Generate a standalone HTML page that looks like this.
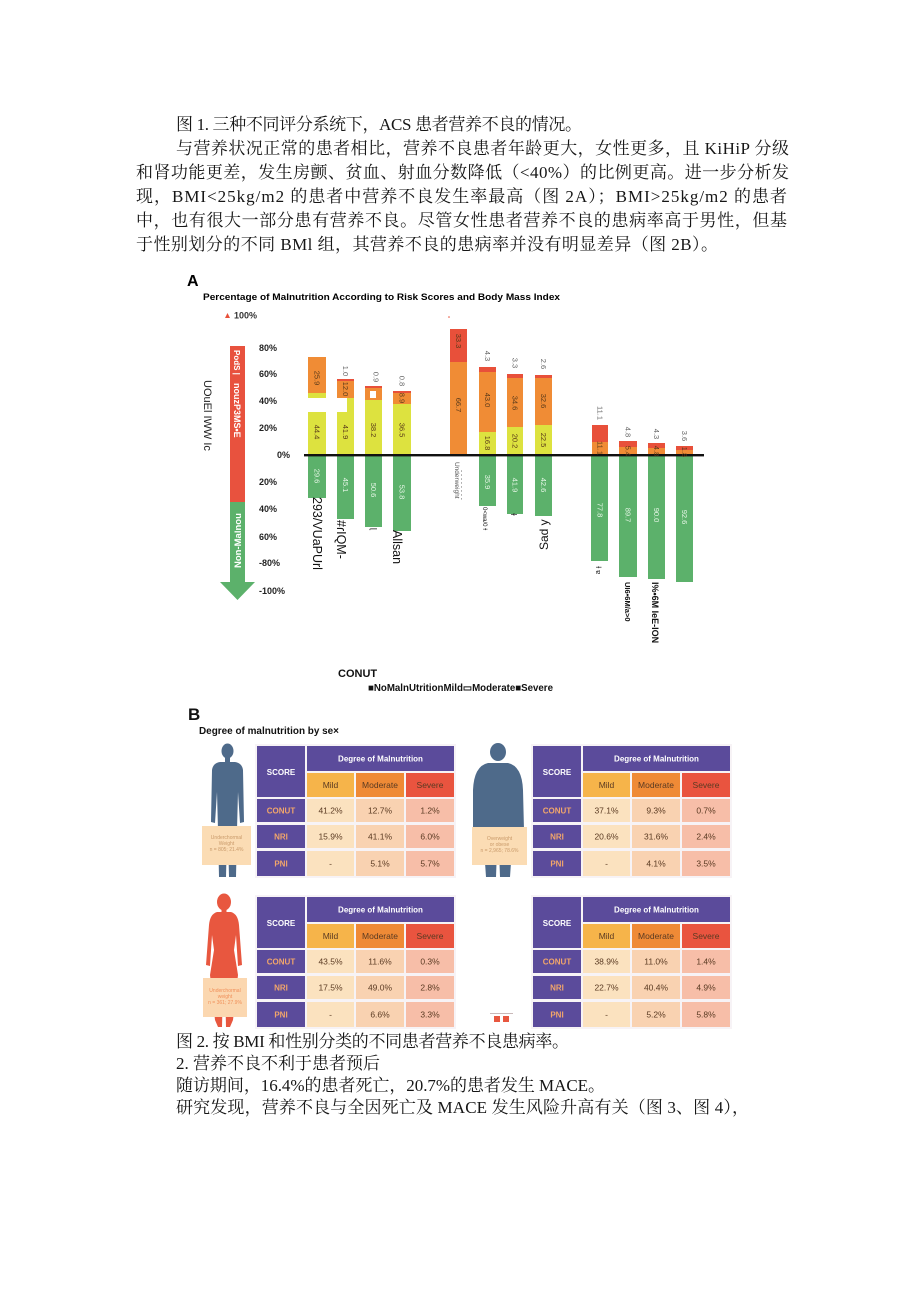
<!DOCTYPE html>
<html><head><meta charset="utf-8"><style>
html,body{margin:0;padding:0;background:#fff;}
svg{display:block;}
.p{font-family:"Liberation Serif","Noto Serif CJK SC",serif;font-size:17px;fill:#161616;}
.s{font-family:"Liberation Sans",Arial,sans-serif;}
.b{font-weight:bold;}
.lb{font-family:"Liberation Sans",sans-serif;font-size:7.5px;fill:#5a3a1a;}
.lg{font-family:"Liberation Sans",sans-serif;font-size:7.5px;fill:#e6f6e6;}
.la{font-family:"Liberation Sans",sans-serif;font-size:7.5px;fill:#666;}
.th{font-family:"Liberation Sans",sans-serif;font-size:8px;fill:#fff;font-weight:bold;}
.tc{font-family:"Liberation Sans",sans-serif;font-size:8.5px;fill:#5a3a22;}
.ts{font-family:"Liberation Sans",sans-serif;font-size:8px;fill:#f2a66a;font-weight:bold;}
</style></head><body>
<svg width="920" height="1301" viewBox="0 0 920 1301" xmlns="http://www.w3.org/2000/svg">
<rect width="920" height="1301" fill="#fff"/>

<!-- top paragraph -->
<text class="p" x="176" y="130" textLength="406" lengthAdjust="spacing">图 1. 三种不同评分系统下，ACS 患者营养不良的情况。</text>
<text class="p" x="176" y="154" textLength="613" lengthAdjust="spacing">与营养状况正常的患者相比，营养不良患者年龄更大，女性更多，且 KiHiP 分级</text>
<text class="p" x="136" y="178" textLength="653" lengthAdjust="spacing">和肾功能更差，发生房颤、贫血、射血分数降低（&lt;40%）的比例更高。进一步分析发</text>
<text class="p" x="136" y="202" textLength="651" lengthAdjust="spacing">现，BMI&lt;25kg/m2 的患者中营养不良发生率最高（图 2A）；BMI&gt;25kg/m2 的患者</text>
<text class="p" x="136" y="226" textLength="651" lengthAdjust="spacing">中，也有很大一部分患有营养不良。尽管女性患者营养不良的患病率高于男性，但基</text>
<text class="p" x="136" y="250" textLength="582" lengthAdjust="spacing">于性别划分的不同 BMl 组，其营养不良的患病率并没有明显差异（图 2B）。</text>

<!-- Chart A -->
<text class="s b" x="187" y="286" font-size="16">A</text>
<text class="s b" x="203" y="300" font-size="9.5" textLength="357" lengthAdjust="spacingAndGlyphs">Percentage of Malnutrition According to Risk Scores and Body Mass Index</text>
<polygon points="225,318 230,318 227.5,313" fill="#e8503a"/>
<text class="s b" x="234" y="318.5" font-size="9" fill="#333">100%</text>

<!-- y labels -->
<g class="s b" font-size="9" fill="#222">
<text x="259" y="351">80%</text>
<text x="259" y="377">60%</text>
<text x="259" y="404">40%</text>
<text x="259" y="431">20%</text>
<text x="277" y="458">0%</text>
<text x="259" y="485">20%</text>
<text x="259" y="512">40%</text>
<text x="259" y="540">60%</text>
<text x="259" y="566">-80%</text>
<text x="259" y="594">-100%</text>
</g>

<!-- arrow -->
<rect x="230" y="346" width="15" height="156" fill="#e8523e"/>
<rect x="230" y="502" width="15" height="80" fill="#5cb16b"/>
<polygon points="220,582 255,582 237.5,600" fill="#5cb16b"/>
<text class="s b" font-size="8" fill="#fff" transform="translate(234,350) rotate(90)">PodS  |</text>
<text class="s b" font-size="9" fill="#fff" transform="translate(234,383) rotate(90)">nouzP3MS•E</text>
<text class="s b" font-size="9.5" fill="#fff" transform="translate(241,568) rotate(-90)">Non-Malnou</text>
<text class="s" font-size="11" fill="#222" transform="translate(204,380) rotate(90)">UOuEl IWW Ic</text>

<!-- bars -->
<g>
<rect x="308" y="357" width="18" height="36" fill="#f08c35"/>
<rect x="308" y="393" width="18" height="5" fill="#dde23f"/>
<rect x="308" y="412" width="18" height="43" fill="#dde23f"/>
<rect x="308" y="455" width="18" height="43" fill="#5cb16b"/>
<rect x="337" y="379" width="17" height="2" fill="#e8503a"/>
<rect x="337" y="381" width="17" height="17" fill="#f08c35"/>
<rect x="347" y="398" width="7" height="14" fill="#dde23f"/>
<rect x="337" y="412" width="17" height="43" fill="#dde23f"/>
<rect x="337" y="455" width="17" height="64" fill="#5cb16b"/>
<rect x="365" y="386" width="17" height="2" fill="#e8503a"/>
<rect x="365" y="388" width="17" height="12" fill="#f08c35"/>
<rect x="370" y="391" width="6" height="7" fill="#fff"/>
<rect x="365" y="400" width="17" height="55" fill="#dde23f"/>
<rect x="365" y="455" width="17" height="72" fill="#5cb16b"/>
<rect x="393" y="391" width="18" height="2" fill="#e8503a"/>
<rect x="393" y="393" width="18" height="11" fill="#f08c35"/>
<rect x="393" y="404" width="18" height="51" fill="#dde23f"/>
<rect x="393" y="455" width="18" height="76" fill="#5cb16b"/>
<circle cx="449" cy="317" r="0.8" fill="#e8503a"/>
<rect x="450" y="329" width="17" height="33" fill="#e8503a"/>
<rect x="450" y="362" width="17" height="93" fill="#f08c35"/>
<rect x="479" y="367" width="17" height="5" fill="#e8503a"/>
<rect x="479" y="372" width="17" height="60" fill="#f08c35"/>
<rect x="479" y="432" width="17" height="23" fill="#dde23f"/>
<rect x="479" y="455" width="17" height="51" fill="#5cb16b"/>
<rect x="507" y="374" width="16" height="4" fill="#e8503a"/>
<rect x="507" y="378" width="16" height="49" fill="#f08c35"/>
<rect x="507" y="427" width="16" height="28" fill="#dde23f"/>
<rect x="507" y="455" width="16" height="59" fill="#5cb16b"/>
<rect x="535" y="375" width="17" height="3" fill="#e8503a"/>
<rect x="535" y="378" width="17" height="47" fill="#f08c35"/>
<rect x="535" y="425" width="17" height="30" fill="#dde23f"/>
<rect x="535" y="455" width="17" height="61" fill="#5cb16b"/>
<rect x="592" y="425" width="16" height="17" fill="#e8503a"/>
<rect x="592" y="442" width="16" height="13" fill="#f08c35"/>
<rect x="591" y="455" width="17" height="106" fill="#5cb16b"/>
<rect x="619" y="441" width="18" height="6" fill="#e8503a"/>
<rect x="619" y="447" width="18" height="8" fill="#f08c35"/>
<rect x="619" y="455" width="18" height="122" fill="#5cb16b"/>
<rect x="648" y="443" width="17" height="5" fill="#e8503a"/>
<rect x="648" y="448" width="17" height="7" fill="#f08c35"/>
<rect x="648" y="455" width="17" height="124" fill="#5cb16b"/>
<rect x="676" y="446" width="17" height="4" fill="#e8503a"/>
<rect x="676" y="450" width="17" height="5" fill="#f08c35"/>
<rect x="676" y="455" width="17" height="127" fill="#5cb16b"/>
</g>

<!-- zero line -->
<rect x="304" y="454" width="400" height="2.4" fill="#111"/>

<!-- bar labels -->
<g text-anchor="middle">
<text class="lb" transform="translate(317,378) rotate(90)" dy="2.5">25.9</text>
<text class="lb" transform="translate(317,432) rotate(90)" dy="2.5">44.4</text>
<text class="lg" transform="translate(317,476) rotate(90)" dy="2.5">29.6</text>
<text class="la" transform="translate(345.5,371) rotate(90)" dy="2.5">1.0</text>
<text class="lb" transform="translate(345.5,389) rotate(90)" dy="2.5">12.0</text>
<text class="lb" transform="translate(345.5,432) rotate(90)" dy="2.5">41.9</text>
<text class="lg" transform="translate(345.5,485) rotate(90)" dy="2.5">45.1</text>
<text class="la" transform="translate(376,377) rotate(90)" dy="2.5">0.9</text>
<text class="lb" transform="translate(373.5,430) rotate(90)" dy="2.5">38.2</text>
<text class="lg" transform="translate(373.5,490) rotate(90)" dy="2.5">50.6</text>
<text class="la" transform="translate(402,381) rotate(90)" dy="2.5">0.8</text>
<text class="lb" transform="translate(402,398) rotate(90)" dy="2.5">8.9</text>
<text class="lb" transform="translate(402,430) rotate(90)" dy="2.5">36.5</text>
<text class="lg" transform="translate(402,492) rotate(90)" dy="2.5">53.8</text>
<text class="lb" transform="translate(458.5,341) rotate(90)" dy="2.5">33.3</text>
<text class="lb" transform="translate(458.5,405) rotate(90)" dy="2.5">66.7</text>
<text class="la" transform="translate(487.5,356) rotate(90)" dy="2.5">4.3</text>
<text class="lb" transform="translate(487.5,400) rotate(90)" dy="2.5">43.0</text>
<text class="lb" transform="translate(487.5,443) rotate(90)" dy="2.5">16.8</text>
<text class="lg" transform="translate(487.5,482) rotate(90)" dy="2.5">35.9</text>
<text class="la" transform="translate(515,363) rotate(90)" dy="2.5">3.3</text>
<text class="lb" transform="translate(515,403) rotate(90)" dy="2.5">34.6</text>
<text class="lb" transform="translate(515,441) rotate(90)" dy="2.5">20.2</text>
<text class="lg" transform="translate(515,485) rotate(90)" dy="2.5">41.9</text>
<text class="la" transform="translate(543.5,364) rotate(90)" dy="2.5">2.6</text>
<text class="lb" transform="translate(543.5,401) rotate(90)" dy="2.5">32.6</text>
<text class="lb" transform="translate(543.5,440) rotate(90)" dy="2.5">22.5</text>
<text class="lg" transform="translate(543.5,485) rotate(90)" dy="2.5">42.6</text>
<text class="la" transform="translate(600,413) rotate(90)" dy="2.5">11.1</text>
<text class="lb" transform="translate(600,448) rotate(90)" dy="2.5">11.1</text>
<text class="lg" transform="translate(600,510) rotate(90)" dy="2.5">77.8</text>
<text class="la" transform="translate(628,432) rotate(90)" dy="2.5">4.8</text>
<text class="lb" transform="translate(628,451) rotate(90)" dy="2.5">5.4</text>
<text class="lg" transform="translate(628,515) rotate(90)" dy="2.5">89.7</text>
<text class="la" transform="translate(656.5,434) rotate(90)" dy="2.5">4.3</text>
<text class="lb" transform="translate(656.5,451) rotate(90)" dy="2.5">4.8</text>
<text class="lg" transform="translate(656.5,515) rotate(90)" dy="2.5">90.0</text>
<text class="la" transform="translate(684.5,436) rotate(90)" dy="2.5">3.6</text>
<text class="lb" transform="translate(684.5,452) rotate(90)" dy="2.5">1.8</text>
<text class="lg" transform="translate(684.5,517) rotate(90)" dy="2.5">92.6</text>
</g>

<!-- garbled category labels -->
<g class="s" fill="#111">
<text font-size="12.5" transform="translate(313,497) rotate(90)">293/VUaPUrl</text>
<text font-size="12.5" transform="translate(337,520) rotate(90)">#ɾIQM-</text>
<text font-size="8" transform="translate(371,528) rotate(90)">ɭ</text>
<text font-size="12.5" transform="translate(393,530) rotate(90)">Allsan</text>
<text font-size="6.5" fill="#555" transform="translate(455,462) rotate(90)">Underweight</text>
<text font-size="6.5" fill="#555" transform="translate(460,470) rotate(90)">- - - - - - - -</text>
<text font-size="6" transform="translate(483,507) rotate(90)">0&lt;wa/0 ɫ</text>
<text font-size="8" transform="translate(511,513) rotate(90)">ɫ</text>
<text font-size="12" transform="translate(548,550) rotate(-90)">Sad y</text>
<text font-size="7" transform="translate(596,566) rotate(90)">ɫ ɐ</text>
<text class="b" font-size="7.5" transform="translate(625,582) rotate(90)">UI6•6M/a&gt;0</text>
<text class="b" font-size="9" transform="translate(652,582) rotate(90)">I%•6M IeE-ION</text>
</g>

<text class="s b" x="338" y="677" font-size="11" fill="#111">CONUT</text>
<text class="s b" x="368" y="691" font-size="10" fill="#111" textLength="185" lengthAdjust="spacingAndGlyphs">■NoMalnUtritionMild▭Moderate■Severe</text>

<!-- B -->
<text class="s b" x="188" y="720" font-size="17" fill="#111">B</text>
<text class="s b" x="199" y="734" font-size="10" fill="#111" textLength="140" lengthAdjust="spacingAndGlyphs">Degree of malnutrition by se×</text>

<!-- tables -->
<defs>
<g id="tbl">
<rect x="-2" y="-2" width="201" height="134" fill="#f7f3f6"/>
<rect x="0" y="0" width="48" height="51" fill="#5b4b9b"/>
<rect x="50" y="0" width="147" height="25" fill="#5b4b9b"/>
<rect x="50" y="27" width="47" height="24" fill="#f6b44a"/>
<rect x="99" y="27" width="48" height="24" fill="#ef8a36"/>
<rect x="149" y="27" width="48" height="24" fill="#e9543f"/>
<rect x="0" y="53" width="48" height="23" fill="#5b4b9b"/>
<rect x="0" y="79" width="48" height="23" fill="#5b4b9b"/>
<rect x="0" y="105" width="48" height="25" fill="#5b4b9b"/>
<rect x="50" y="53" width="47" height="23" fill="#fbe2bf"/>
<rect x="50" y="79" width="47" height="23" fill="#fbe2bf"/>
<rect x="50" y="105" width="47" height="25" fill="#fbe2bf"/>
<rect x="99" y="53" width="48" height="23" fill="#f9d2b1"/>
<rect x="99" y="79" width="48" height="23" fill="#f9d2b1"/>
<rect x="99" y="105" width="48" height="25" fill="#f9d2b1"/>
<rect x="149" y="53" width="48" height="23" fill="#f7bea8"/>
<rect x="149" y="79" width="48" height="23" fill="#f7bea8"/>
<rect x="149" y="105" width="48" height="25" fill="#f7bea8"/>
<text class="th" x="24" y="29" text-anchor="middle">SCORE</text>
<text class="th" x="123.5" y="15.5" text-anchor="middle">Degree of Malnutrition</text>
<text class="tc" x="73.5" y="42" text-anchor="middle">Mild</text>
<text class="tc" x="123" y="42" text-anchor="middle">Moderate</text>
<text class="tc" x="173" y="42" text-anchor="middle" fill="#5a1a10">Severe</text>
<text class="ts" x="24" y="67.5" text-anchor="middle">CONUT</text>
<text class="ts" x="24" y="93.5" text-anchor="middle">NRI</text>
<text class="ts" x="24" y="120.5" text-anchor="middle">PNI</text>
</g>
</defs>

<g transform="translate(257,746)">
<use href="#tbl"/>
<g class="tc" text-anchor="middle">
<text x="73.5" y="67.5">41.2%</text><text x="123" y="67.5">12.7%</text><text x="173" y="67.5">1.2%</text>
<text x="73.5" y="93.5">15.9%</text><text x="123" y="93.5">41.1%</text><text x="173" y="93.5">6.0%</text>
<text x="73.5" y="120.5">-</text><text x="123" y="120.5">5.1%</text><text x="173" y="120.5">5.7%</text>
</g></g>

<g transform="translate(533,746)">
<use href="#tbl"/>
<g class="tc" text-anchor="middle">
<text x="73.5" y="67.5">37.1%</text><text x="123" y="67.5">9.3%</text><text x="173" y="67.5">0.7%</text>
<text x="73.5" y="93.5">20.6%</text><text x="123" y="93.5">31.6%</text><text x="173" y="93.5">2.4%</text>
<text x="73.5" y="120.5">-</text><text x="123" y="120.5">4.1%</text><text x="173" y="120.5">3.5%</text>
</g></g>

<g transform="translate(257,897)">
<use href="#tbl"/>
<g class="tc" text-anchor="middle">
<text x="73.5" y="67.5">43.5%</text><text x="123" y="67.5">11.6%</text><text x="173" y="67.5">0.3%</text>
<text x="73.5" y="93.5">17.5%</text><text x="123" y="93.5">49.0%</text><text x="173" y="93.5">2.8%</text>
<text x="73.5" y="120.5">-</text><text x="123" y="120.5">6.6%</text><text x="173" y="120.5">3.3%</text>
</g></g>

<g transform="translate(533,897)">
<use href="#tbl"/>
<g class="tc" text-anchor="middle">
<text x="73.5" y="67.5">38.9%</text><text x="123" y="67.5">11.0%</text><text x="173" y="67.5">1.4%</text>
<text x="73.5" y="93.5">22.7%</text><text x="123" y="93.5">40.4%</text><text x="173" y="93.5">4.9%</text>
<text x="73.5" y="120.5">-</text><text x="123" y="120.5">5.2%</text><text x="173" y="120.5">5.8%</text>
</g></g>

<!-- figures -->
<ellipse cx="227.5" cy="751" rx="6" ry="7.5" fill="#4e6a8a"/>
<rect x="225" y="756" width="5" height="7" fill="#4e6a8a"/>
<path d="M220,762 L235,762 Q242,763 243,770 L244,822 L240,823 L238,792 L237,830 L236,877 L229,877 L228,836 L227,836 L226,877 L219,877 L218,830 L217,792 L215,823 L211,822 L212,770 Q213,763 220,762 Z" fill="#4e6a8a"/>
<rect x="202" y="826" width="49" height="39" fill="#fbdcb4"/>
<g class="s" font-size="5" fill="#c99a6a" text-anchor="middle">
<text x="226.5" y="839">Underchormal</text><text x="226.5" y="845">Weight</text><text x="226.5" y="851">n = 805; 21.4%</text>
</g>

<ellipse cx="498" cy="752" rx="8" ry="9" fill="#4e6a8a"/>
<path d="M488,763 L508,763 Q522,766 523,790 L524,830 Q522,845 512,848 L510,877 L500,877 L499,850 L497,850 L496,877 L486,877 L484,848 Q474,845 473,830 L473,790 Q474,766 488,763 Z" fill="#4e6a8a"/>
<rect x="472" y="827" width="55" height="38" fill="#fbdcb4"/>
<g class="s" font-size="5" fill="#c99a6a" text-anchor="middle">
<text x="499.5" y="840">Overweight</text><text x="499.5" y="846">or obese</text><text x="499.5" y="852">n = 2,965; 78.6%</text>
</g>

<ellipse cx="224" cy="902" rx="7" ry="8.5" fill="#e8573f"/>
<rect x="221.5" y="908" width="5" height="6" fill="#e8573f"/>
<path d="M217,912 L231,912 Q238,914 239,925 L242,965 L238,966 L236,935 L234,950 L238,975 L233,1020 L230,1027 L226,1027 L225,985 L223,985 L222,1027 L218,1027 L215,1020 L210,975 L214,950 L212,935 L210,966 L206,965 L209,925 Q210,914 217,912 Z" fill="#e8573f"/>
<rect x="203" y="978" width="44" height="39" fill="#fbd7b0"/>
<g class="s" font-size="5" fill="#f0905a" text-anchor="middle">
<text x="225" y="992">Underchormal</text><text x="225" y="998">weight</text><text x="225" y="1004">n = 361; 27.9%</text>
</g>

<rect x="490" y="1013" width="23" height="1" fill="#c9b9b9"/>
<rect x="494" y="1016" width="6" height="6" fill="#e8573f"/>
<rect x="503" y="1016" width="6" height="6" fill="#e8573f"/>

<!-- bottom text -->
<text class="p" x="176" y="1047" textLength="393" lengthAdjust="spacing">图 2. 按 BMI 和性别分类的不同患者营养不良患病率。</text>
<text class="p" x="176" y="1069" textLength="204" lengthAdjust="spacing">2. 营养不良不利于患者预后</text>
<text class="p" x="176" y="1091" textLength="429" lengthAdjust="spacing">随访期间，16.4%的患者死亡，20.7%的患者发生 MACE。</text>
<text class="p" x="176" y="1113" textLength="573" lengthAdjust="spacing">研究发现，营养不良与全因死亡及 MACE 发生风险升高有关（图 3、图 4），</text>
</svg>
</body></html>
